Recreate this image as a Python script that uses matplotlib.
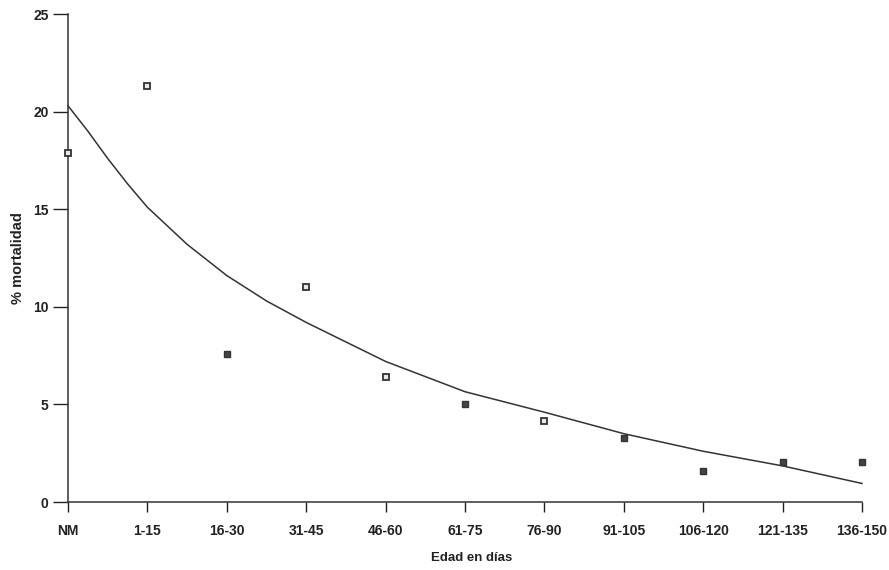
import matplotlib.pyplot as plt

# categorias de edad
grupos = ["NM", "1-15", "16-30", "31-45", "46-60", "61-75", "76-90",
          "91-105", "106-120", "121-135", "136-150"]

# % mortalidad observada (cuadros abiertos / llenos)
pos_abiertos = [0, 1, 3, 4, 6]
val_abiertos = [17.9, 21.3, 11.0, 6.4, 4.15]
pos_llenos = [2, 5, 7, 8, 9, 10]
val_llenos = [7.6, 5.0, 3.3, 1.6, 2.05, 2.05]

# curva de tendencia
curva_x = [0, 0.25, 0.5, 0.75, 1, 1.5, 2, 2.5, 3, 4, 5, 6, 7, 8, 9, 10]
curva_y = [20.3, 19.0, 17.6, 16.3, 15.1, 13.2, 11.6, 10.3, 9.2, 7.2, 5.65, 4.6,
           3.5, 2.6, 1.85, 0.95]

plt.rcParams['font.family'] = ['Liberation Sans', 'DejaVu Sans']
plt.rcParams['font.weight'] = 'bold'

fig = plt.figure(figsize=(8.89, 5.70), dpi=100)
ax = fig.add_axes([68/889, 68/570, (862-68)/889, (502-14)/570])

ax.plot(curva_x, curva_y, color="#333333", lw=1.1, clip_on=False)
ax.plot(pos_abiertos, val_abiertos, "s", ms=5, mfc="#e8e8e8", mec="#333333",
        mew=1.3, ls="none", clip_on=False, zorder=3)
ax.plot(pos_llenos, val_llenos, "s", ms=5, mfc="#444444", mec="#333333",
        mew=1.0, ls="none", clip_on=False, zorder=3)

ax.set_xlim(0, 10)
ax.set_ylim(0, 25)
ax.set_xticks(range(len(grupos)))
ax.set_xticklabels(grupos)
ax.set_yticks([0, 5, 10, 15, 20, 25])

for s in ["top", "right"]:
    ax.spines[s].set_visible(False)
for s in ["left", "bottom"]:
    ax.spines[s].set_linewidth(1.1)
    ax.spines[s].set_color("#333333")

ax.tick_params(axis="y", direction="out", length=11, width=1.0, pad=3,
               labelsize=10, colors="#222222")
ax.tick_params(axis="x", direction="out", length=7, width=1.0, pad=9,
               labelsize=10, colors="#222222")

ax.set_xlabel("Edad en días", fontsize=9.5, fontweight="bold", color="#222222")
ax.xaxis.set_label_coords(0.508, -0.102)
ax.set_ylabel("% mortalidad", fontsize=10.5, fontweight="bold", color="#222222", labelpad=6)

fig.savefig("out.png", dpi=100)
